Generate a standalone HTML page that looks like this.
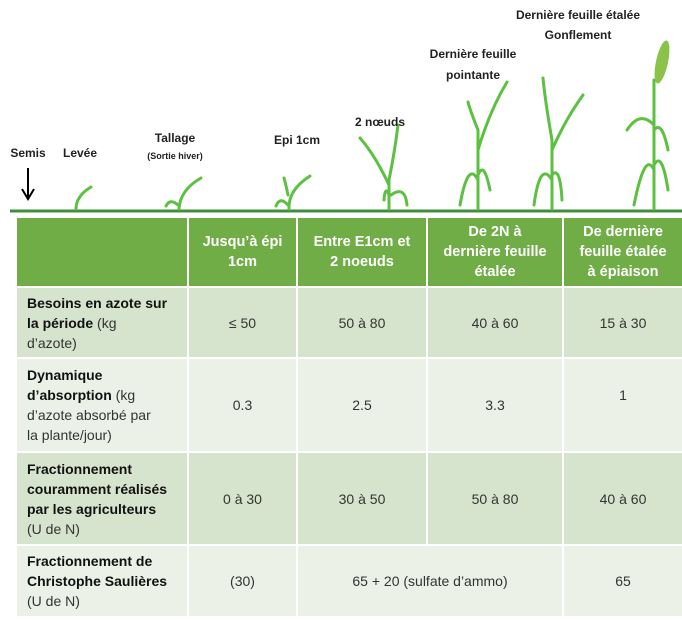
<!DOCTYPE html>
<html><head><meta charset="utf-8"><style>
body{margin:0;width:682px;height:620px;background:#fff;font-family:"Liberation Sans Narrow","Liberation Sans",sans-serif;position:relative;overflow:hidden}
.l{position:absolute;font-size:12px;font-weight:bold;color:#222;text-align:center;white-space:nowrap;transform:translateX(-50%)}
table{position:absolute;left:15px;top:216px;border-collapse:separate;border-spacing:2px;width:669px;table-layout:fixed}
td{font-size:14px;color:#333;text-align:center;vertical-align:middle;padding:0 4px;line-height:20px;white-space:nowrap}
td.h{background:#70ad47;color:#fff;font-weight:bold;height:68px;font-size:14.5px}
tr.a td{background:#d6e4cd}
tr.b td{background:#ebf1e7}
td.f{text-align:left;padding-left:10px}
td.f b{color:#111}
</style></head><body>
<svg width="682" height="216" style="position:absolute;left:0;top:0">
<line x1="10" y1="211" x2="682" y2="211" stroke="#3f8f3a" stroke-width="3"/>
<line x1="28" y1="168" x2="28" y2="197" stroke="#000" stroke-width="2"/>
<path d="M22 189 L28 199 L34 189" fill="none" stroke="#000" stroke-width="2"/>
<g fill="none" stroke="#5cc041" stroke-width="3" stroke-linecap="round">
<path d="M76 209 Q76 196 91 187"/>
<path d="M179 209 Q180 190 201 178"/><path d="M178 205 Q170 198 166 206"/>
<path d="M289 209 Q288 190 310 176"/><path d="M288 205 Q280 196 276 206"/><path d="M288 195 Q286 185 284 178"/>
<path d="M389 209 L389 180 Q395 150 398 125"/><path d="M389 185 Q375 155 360 138"/><path d="M391 195 Q405 185 407 205"/><path d="M389 195 Q385 185 384 200"/>
<path d="M478 209 L478 130 Q470 110 468 102"/><path d="M478 150 Q490 110 507 82"/><path d="M478 180 Q468 160 460 205"/><path d="M478 175 Q484 160 490 190"/>
<path d="M552 209 L552 140 Q545 100 543 78"/><path d="M552 150 Q565 120 583 95"/><path d="M552 180 Q540 160 534 205"/><path d="M552 175 Q560 165 562 200"/>
<path d="M654 209 L654 80"/><path d="M654 125 Q640 110 627 130"/><path d="M654 130 Q662 120 668 150"/><path d="M654 170 Q645 150 634 205"/><path d="M654 165 Q662 150 668 190"/>
</g>
<ellipse cx="662" cy="62" rx="6" ry="22" fill="#8bc34a" transform="rotate(12 662 62)"/>
</svg>
<div class="l" style="left:28px;top:146px">Semis</div>
<div class="l" style="left:80px;top:146px">Levée</div>
<div class="l" style="left:175px;top:131px">Tallage</div>
<div class="l" style="left:175px;top:151px;font-size:9px">(Sortie hiver)</div>
<div class="l" style="left:297px;top:133px">Epi 1cm</div>
<div class="l" style="left:380px;top:115px">2 nœuds</div>
<div class="l" style="left:473px;top:47px">Dernière feuille</div>
<div class="l" style="left:473px;top:68px">pointante</div>
<div class="l" style="left:578px;top:8px">Dernière feuille étalée</div>
<div class="l" style="left:578px;top:28px">Gonflement</div>
<table>
<colgroup><col style="width:170px"><col style="width:107px"><col style="width:128px"><col style="width:134px"><col></colgroup>
<tr><td class="h"></td><td class="h">Jusqu’à épi<br>1cm</td><td class="h">Entre E1cm et<br>2 noeuds</td><td class="h">De 2N à<br>dernière feuille<br>étalée</td><td class="h">De dernière<br>feuille étalée<br>à épiaison</td></tr>
<tr class="a" style="height:69px"><td class="f"><b>Besoins en azote sur<br>la période</b> (kg<br>d’azote)</td><td>≤ 50</td><td>50 à 80</td><td>40 à 60</td><td>15 à 30</td></tr>
<tr class="b" style="height:92px"><td class="f"><b>Dynamique<br>d’absorption</b> (kg<br>d’azote absorbé par<br>la plante/jour)</td><td>0.3</td><td>2.5</td><td>3.3</td><td style="vertical-align:top;padding-top:26px">1</td></tr>
<tr class="a" style="height:91px"><td class="f"><b>Fractionnement<br>couramment réalisés<br>par les agriculteurs</b><br>(U de N)</td><td>0 à 30</td><td>30 à 50</td><td>50 à 80</td><td>40 à 60</td></tr>
<tr class="b" style="height:70px"><td class="f"><b>Fractionnement de<br>Christophe Saulières</b><br>(U de N)</td><td>(30)</td><td colspan="2">65 + 20 (sulfate d’ammo)</td><td>65</td></tr>
</table>
</body></html>
